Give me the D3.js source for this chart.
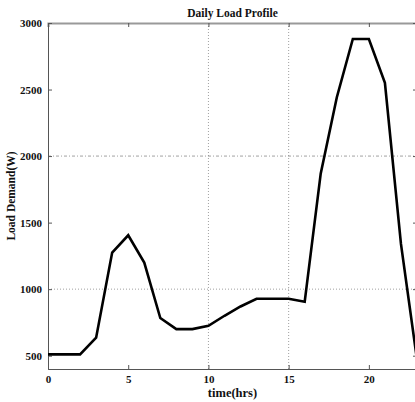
<!DOCTYPE html>
<html>
<head>
<meta charset="utf-8">
<script src="https://cdn.jsdelivr.net/npm/d3@7"></script>
<style>
  html, body { margin: 0; padding: 0; background: #fff; overflow: hidden; }
  text { font-family: "Liberation Serif", "Times New Roman", serif; font-weight: bold; fill: #111; }
</style>
</head>
<body>
<svg id="chart" width="415" height="402"></svg>
<script>
// hourly load
var hours = [0, 1, 2, 3, 4, 5, 6, 7, 8, 9, 10, 11, 12, 13, 14, 15, 16, 17, 18, 19, 20, 21, 22, 23];
var loads = [510, 510, 510, 635, 1275, 1405, 1200, 783, 700, 700, 725, 800, 870, 928, 928, 928, 905, 1870, 2440, 2880, 2880, 2550, 1340, 470];
var xTicks = [0, 5, 10, 15, 20];
var yTicks = [500, 1000, 1500, 2000, 2500, 3000];
var xGrid = [10, 15];
var yGrid = [1000, 2000];

var svg = d3.select("#chart"),
  mLeft = 48, mRight = 417, mTop = 23, mBottom = 369;

var x = d3.scaleLinear().domain([0, 23]).range([mLeft, mRight]);
var y = d3.scaleLinear().domain([400, 3000]).range([mBottom, mTop]);

// grid lines (only a few, like the figure)
svg.append("g").selectAll("line")
  .data(xGrid)
  .enter().append("line")
  .attr("x1", function(d) { return x(d); })
  .attr("x2", function(d) { return x(d); })
  .attr("y1", mTop).attr("y2", mBottom)
  .attr("stroke", "#888").attr("stroke-width", 0.8)
  .attr("stroke-dasharray", "1,2");

svg.append("g").selectAll("line")
  .data(yGrid)
  .enter().append("line")
  .attr("x1", mLeft).attr("x2", mRight)
  .attr("y1", function(d) { return y(d); })
  .attr("y2", function(d) { return y(d); })
  .attr("stroke", "#888").attr("stroke-width", 0.8)
  .attr("stroke-dasharray", function(d) { return d === 2000 ? "3,2,1,2" : "1,2"; });

// axes
var xAxis = svg.append("g")
  .attr("transform", "translate(0," + mBottom + ")")
  .call(d3.axisBottom(x).tickValues(xTicks).tickSize(-4).tickPadding(6).tickFormat(d3.format("d")));
var xTop = svg.append("g")
  .attr("transform", "translate(0," + mTop + ")")
  .call(d3.axisTop(x).tickValues(xTicks).tickSize(-4).tickFormat(""));
var yAxis = svg.append("g")
  .attr("transform", "translate(" + mLeft + ",0)")
  .call(d3.axisLeft(y).tickValues(yTicks).tickSize(-4).tickPadding(6).tickFormat(d3.format("d")));
var yRight = svg.append("g")
  .attr("transform", "translate(" + mRight + ",0)")
  .call(d3.axisRight(y).tickValues(yTicks).tickSize(-4).tickFormat(""));

[xAxis, xTop, yAxis, yRight].forEach(function(a) {
  a.select(".domain").attr("stroke", "#555").attr("stroke-width", 1);
  a.selectAll(".tick line").attr("stroke", "#555");
  a.selectAll("text").style("font-size", "11px").style("font-family", "'Liberation Serif', serif").style("font-weight", "bold").attr("fill", "#111");
});
xTop.select(".domain").attr("stroke", "#999").attr("stroke-width", 2.2);

// load curve
var line = d3.line()
  .x(function(d, i) { return x(hours[i]); })
  .y(function(d) { return y(d); });

svg.append("path")
  .datum(loads)
  .attr("d", line)
  .attr("fill", "none")
  .attr("stroke", "#000")
  .attr("stroke-width", 2.6)
  .attr("stroke-linejoin", "miter");

// labels
svg.append("text")
  .attr("x", (mLeft + mRight) / 2).attr("y", 17)
  .attr("text-anchor", "middle")
  .style("font-size", "11.5px")
  .text("Daily Load Profile");

svg.append("text")
  .attr("x", (mLeft + mRight) / 2).attr("y", 397)
  .attr("text-anchor", "middle")
  .style("font-size", "12.5px")
  .text("time(hrs)");

svg.append("text")
  .attr("transform", "translate(15," + (mTop + mBottom) / 2 + ") rotate(-90)")
  .attr("text-anchor", "middle")
  .style("font-size", "11.5px")
  .text("Load Demand(W)");
</script>
</body>
</html>
